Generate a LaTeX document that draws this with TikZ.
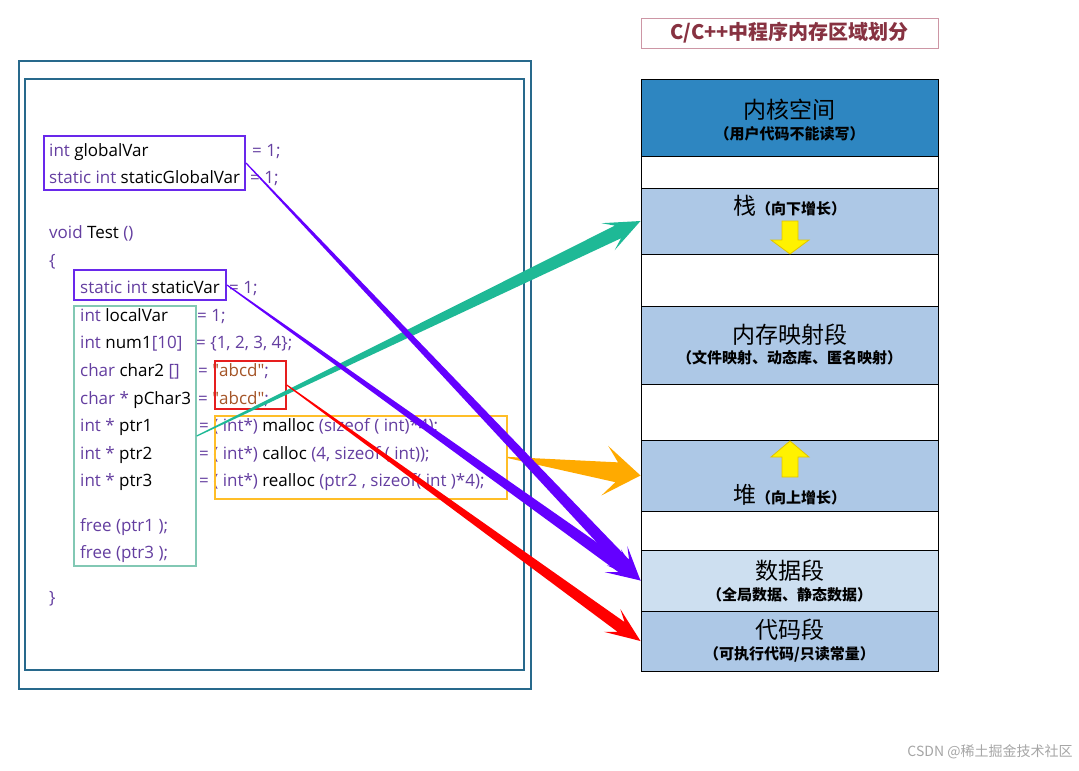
\documentclass[tikz,border=0pt]{standalone}
\usepackage{fontspec}
\setmainfont{Open Sans}
\newfontfamily\cjk{Noto Sans CJK SC}
\usetikzlibrary{calc,positioning}

\definecolor{kwpurple}{RGB}{100,62,160}
\definecolor{strbrown}{RGB}{165,85,40}
\definecolor{framebl}{RGB}{40,105,140}
\definecolor{kernelbl}{RGB}{46,134,193}
\definecolor{segbl}{RGB}{173,200,230}
\definecolor{databl}{RGB}{205,223,240}
\definecolor{boxpurple}{RGB}{105,40,235}
\definecolor{boxgreen}{RGB}{130,200,180}
\definecolor{boxred}{RGB}{230,30,30}
\definecolor{boxorange}{RGB}{255,190,40}
\definecolor{arrpurple}{RGB}{100,0,255}
\definecolor{arrgreen}{RGB}{30,185,150}
\definecolor{arrorange}{RGB}{255,170,0}
\definecolor{arrred}{RGB}{255,0,0}
\definecolor{titlered}{RGB}{135,50,65}
\definecolor{titleborder}{RGB}{205,150,165}
\definecolor{yellowedge}{RGB}{225,195,0}

\newcommand{\codefont}{\fontsize{17}{20}\selectfont}
\newcommand{\kw}[1]{\textcolor{kwpurple}{#1}}
\newcommand{\strlit}[1]{\textcolor{strbrown}{\textquotedbl#1\textquotedbl}}
% colour, from, to, shaft half width, head half width, head length, neck length
\newcommand{\taperarrow}[7]{%
  \fill[#1] ($(#2)!0.6pt!90:(#3)$)
    -- ($(#3)!#7pt!(#2)!#4pt!90:(#3)$)
    -- ($(#3)!#6pt!(#2)!#5pt!90:(#3)$)
    -- (#3)
    -- ($(#3)!#6pt!(#2)!#5pt!-90:(#3)$)
    -- ($(#3)!#7pt!(#2)!#4pt!-90:(#3)$)
    -- ($(#2)!0.6pt!-90:(#3)$) -- cycle;}

\begin{document}
\begin{tikzpicture}[x=1pt, y=-1pt,
  codetxt/.style={anchor=base west, inner sep=0pt, font=\codefont},
  hlbox/.style={draw, inner sep=0pt, line width=1.5pt},
  seg/.style={draw=black, line width=1pt, minimum width=297pt, inner sep=0pt},
  seglbl/.style={inner sep=0pt, font=\cjk\fontsize{23}{26}\selectfont},
  segsub/.style={inner sep=0pt, font=\cjk\bfseries\fontsize{15}{17}\selectfont},
  yarrow/.style={fill=yellow, draw=yellowedge, line width=0.8pt}
]
\useasboundingbox (0,0) rectangle (1079,771);
\fill[white] (0,0) rectangle (1079,771);

% code frame
\draw[framebl, line width=1.3pt] (19,61) rectangle (531,689);
\draw[framebl, line width=1.3pt] (25,79) rectangle (524,670);

% code
\node[codetxt] (l1) at (49,156) {\kw{int} globalVar};
\node[codetxt] (l1r) at (252,156) {\kw{= 1;}};
\node[codetxt] (l2) at (49,183) {\kw{static int} staticGlobalVar};
\node[codetxt] (l2r) at (250,183) {\kw{= 1;}};
\node[codetxt] (l3) at (49,238) {\kw{void} Test \kw{()}};
\node[codetxt] (l4) at (49,266) {\kw{\{}};
\node[codetxt] (l5) at (80,293) {\kw{static int} staticVar};
\node[codetxt] (l5r) at (229,293) {\kw{= 1;}};
\node[codetxt] (l6) at (80,321) {\kw{int} localVar};
\node[codetxt] (l6r) at (197,321) {\kw{= 1;}};
\node[codetxt] (l7) at (80,348) {\kw{int} num1\kw{[10]}};
\node[codetxt] (l7r) at (196,348) {\kw{= \{1, 2, 3, 4\};}};
\node[codetxt] (l8) at (80,376) {\kw{char} char2 \kw{[]}};
\node[codetxt] (l8r) at (198,376) {\kw{=} \strlit{abcd}\kw{;}};
\node[codetxt] (l9) at (80,404) {\kw{char *} pChar3};
\node[codetxt] (l9r) at (198,404) {\kw{=} \strlit{abcd}\kw{;}};
\node[codetxt] (l10) at (80,431) {\kw{int *} ptr1};
\node[codetxt] (l10r) at (199,431) {\kw{= ( int*)} malloc \kw{(sizeof ( int)*4);}};
\node[codetxt] (l11) at (80,459) {\kw{int *} ptr2};
\node[codetxt] (l11r) at (199,459) {\kw{= ( int*)} calloc \kw{(4, sizeof ( int));}};
\node[codetxt] (l12) at (80,486) {\kw{int *} ptr3};
\node[codetxt] (l12r) at (199,486) {\kw{= ( int*)} realloc \kw{(ptr2 , sizeof( int )*4);}};
\node[codetxt] (l13) at (80,531) {\kw{free (ptr1 );}};
\node[codetxt] (l14) at (80,558) {\kw{free (ptr3 );}};
\node[codetxt] (l15) at (49,603) {\kw{\}}};

% highlight boxes
\node[hlbox, draw=boxpurple, line width=2pt, minimum width=201pt, minimum height=54pt] (gbox) at (144.5,163) {};
\node[hlbox, draw=boxpurple, line width=2pt, minimum width=152pt, minimum height=30pt] (svbox) at (150,285) {};
\node[hlbox, draw=boxgreen, minimum width=122pt, minimum height=260pt] (lbox) at (135,436) {};
\node[hlbox, draw=boxred, minimum width=71pt, minimum height=48pt] (rbox) at (250.5,385) {};
\node[hlbox, draw=boxorange, minimum width=292pt, minimum height=83pt] (obox) at (361,457.5) {};

% title
\node[draw=titleborder, line width=0.8pt, minimum width=297pt, minimum height=30pt, inner sep=0pt,
  text=titlered, font=\cjk\bfseries\fontsize{20}{24}\selectfont] (title) at (789.5,33) {C/C++中程序内存区域划分};

% memory segments
\node[seg, fill=kernelbl, minimum height=77pt] (kernel) at (789.5,117.5) {};
\node[seg, fill=white, minimum height=32pt] (gap1) at (789.5,172) {};
\node[seg, fill=segbl, minimum height=66pt] (stack) at (789.5,221) {};
\node[seg, fill=white, minimum height=52pt] (gap2) at (789.5,280) {};
\node[seg, fill=segbl, minimum height=78pt] (mmap) at (789.5,345) {};
\node[seg, fill=white, minimum height=56pt] (gap3) at (789.5,412) {};
\node[seg, fill=segbl, minimum height=71pt] (heap) at (789.5,475.5) {};
\node[seg, fill=white, minimum height=39pt] (gap4) at (789.5,530.5) {};
\node[seg, fill=databl, minimum height=61pt] (data) at (789.5,580.5) {};
\node[seg, fill=segbl, minimum height=60pt] (code) at (789.5,641) {};

\node[seglbl] (kernlbl) at (789.5,110) {内核空间};
\node[segsub] (kernsub) at (789.5,134) {（用户代码不能读写）};
\node[inner sep=0pt] (stacklbl) at (789.5,206) {\cjk\fontsize{23}{26}\selectfont 栈\bfseries\fontsize{15}{17}\selectfont（向下增长）};
\node[seglbl] (mmaplbl) at (789.5,335) {内存映射段};
\node[segsub] (mmapsub) at (789.5,358) {（文件映射、动态库、匿名映射）};
\node[inner sep=0pt] (heaplbl) at (789.5,495) {\cjk\fontsize{23}{26}\selectfont 堆\bfseries\fontsize{15}{17}\selectfont（向上增长）};
\node[seglbl] (datalbl) at (789.5,571) {数据段};
\node[segsub] (datasub) at (789.5,595) {（全局数据、静态数据）};
\node[seglbl] (codelbl) at (789.5,630) {代码段};
\node[segsub] (codesub) at (789.5,654) {（可执行代码/只读常量）};

% growth arrows
\draw[yarrow] (782,221) -- (798,221) -- (798,240) -- (809,240) -- (790,254) -- (771,240) -- (782,240) -- cycle;
\draw[yarrow] (790,441) -- (809,457) -- (798,457) -- (798,477) -- (782,477) -- (782,457) -- (771,457) -- cycle;

% connectors
\taperarrow{arrgreen}{lbox.east}{stack.west}{7}{15}{36}{25}
\taperarrow{arrorange}{obox.east}{heap.west}{10}{25}{36}{24}
\taperarrow{arrpurple}{gbox.east}{data.west}{6}{14}{34}{23}
\taperarrow{arrpurple}{svbox.east}{data.west}{6}{14}{34}{23}
\taperarrow{arrred}{rbox.east}{code.west}{6}{14}{35}{24}

\node[text=black!35, font=\cjk\fontsize{14}{16}\selectfont, inner sep=0pt] (mark) at (990,752) {CSDN @稀土掘金技术社区};
\end{tikzpicture}
\end{document}
